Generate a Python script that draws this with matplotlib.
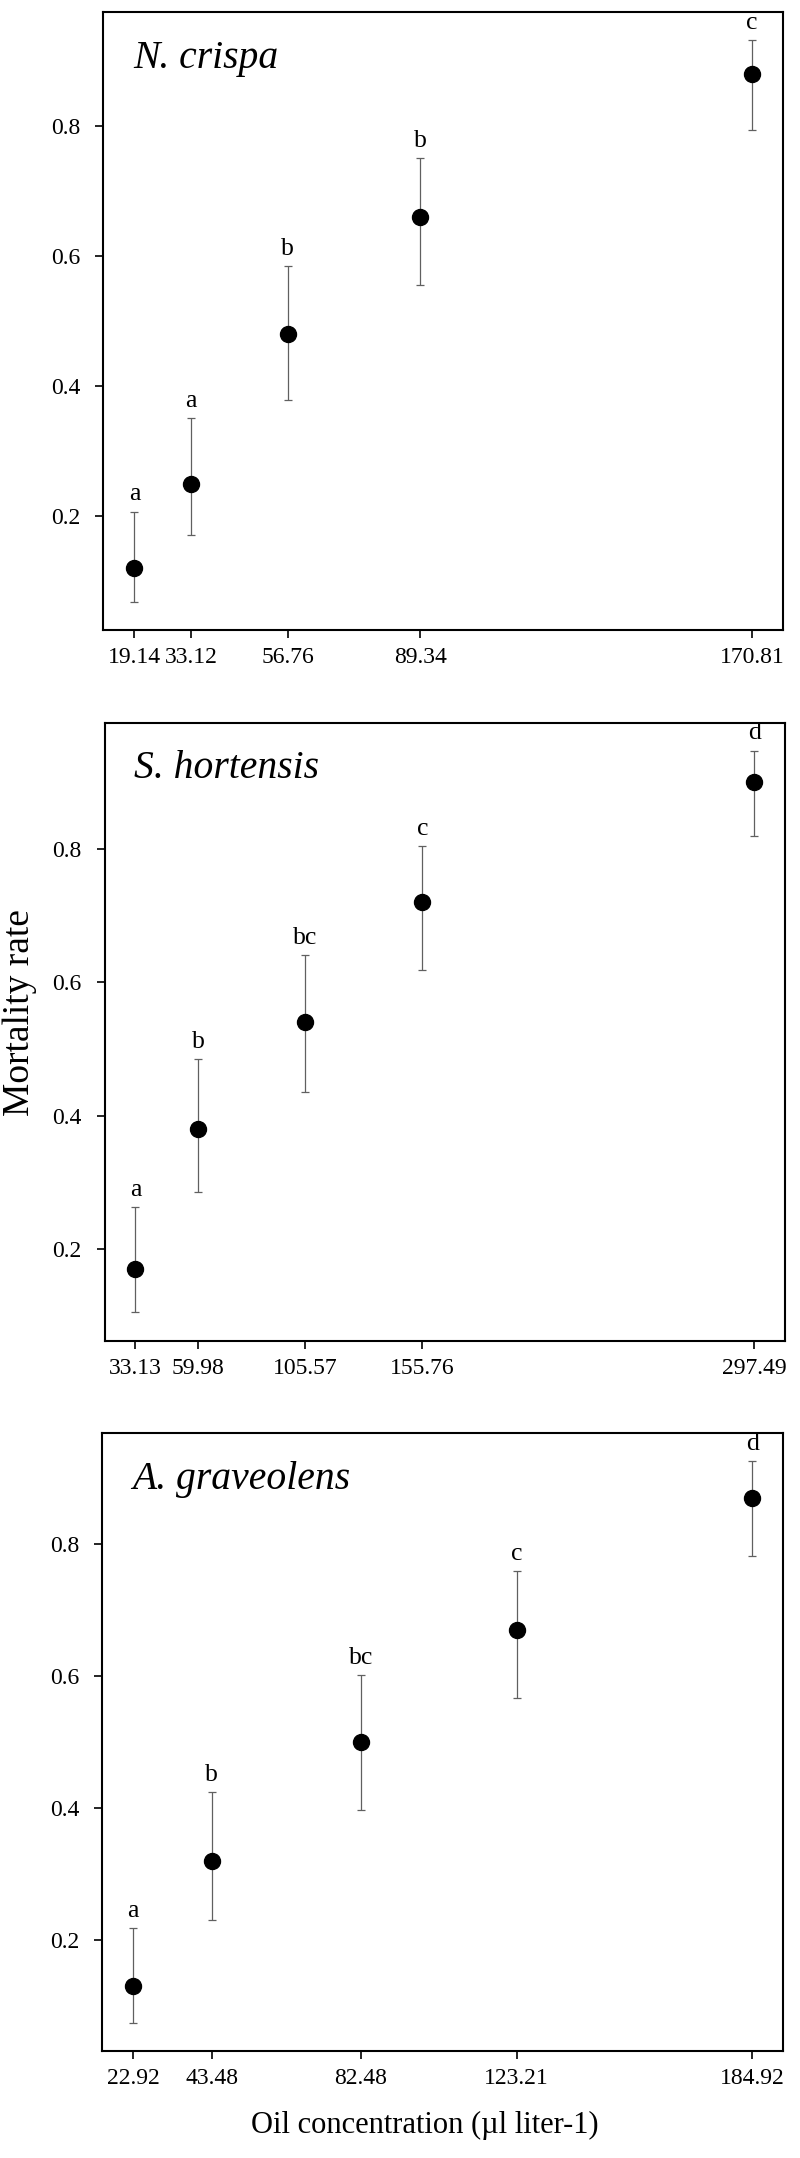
import matplotlib
matplotlib.use("Agg")
import matplotlib.pyplot as plt

plt.rcParams['font.family'] = ['Liberation Serif', 'DejaVu Serif']

# ---- data ----
species = ["N. crispa", "S. hortensis", "A. graveolens"]

conc_crispa = [19.14, 33.12, 56.76, 89.34, 170.81]
mort_crispa = [0.12, 0.25, 0.48, 0.66, 0.88]
upper_crispa = [0.207, 0.351, 0.584, 0.750, 0.932]
lower_crispa = [0.068, 0.171, 0.379, 0.555, 0.794]
letters_crispa = ["a", "a", "b", "b", "c"]

conc_hortensis = [33.13, 59.98, 105.57, 155.76, 297.49]
mort_hortensis = [0.17, 0.38, 0.54, 0.72, 0.90]
upper_hortensis = [0.263, 0.485, 0.641, 0.804, 0.947]
lower_hortensis = [0.105, 0.285, 0.436, 0.618, 0.819]
letters_hortensis = ["a", "b", "bc", "c", "d"]

conc_graveolens = [22.92, 43.48, 82.48, 123.21, 184.92]
mort_graveolens = [0.13, 0.32, 0.50, 0.67, 0.87]
upper_graveolens = [0.218, 0.424, 0.602, 0.760, 0.926]
lower_graveolens = [0.075, 0.231, 0.397, 0.567, 0.783]
letters_graveolens = ["a", "b", "bc", "c", "d"]

yticks = [0.2, 0.4, 0.6, 0.8]
ytick_labels = ["0.2", "0.4", "0.6", "0.8"]

panels = [
    (species[0], conc_crispa, mort_crispa, upper_crispa, lower_crispa, letters_crispa),
    (species[1], conc_hortensis, mort_hortensis, upper_hortensis, lower_hortensis, letters_hortensis),
    (species[2], conc_graveolens, mort_graveolens, upper_graveolens, lower_graveolens, letters_graveolens),
]

# axes boxes in pixels: left, right, top, bottom
W, H = 800, 2158
boxes = [(103.5, 783, 12, 630), (104.5, 785, 722.5, 1340.5), (102.3, 783.3, 1433.3, 2050.7)]

fig = plt.figure(figsize=(W / 100, H / 100), dpi=100)
fig.patch.set_facecolor("white")

for (name, x, y, up, lo, letters), (l, r, t, b) in zip(panels, boxes):
    ax = fig.add_axes([l / W, 1 - b / H, (r - l) / W, (b - t) / H])
    yerr = [[yi - li for yi, li in zip(y, lo)], [ui - yi for yi, ui in zip(y, up)]]
    ax.errorbar(x, y, yerr=yerr, fmt='none', ecolor='#606060', elinewidth=0.9,
                capsize=3.0, capthick=0.9, zorder=2)
    ax.plot(x, y, 'o', color='black', markersize=11.5, zorder=3)
    for xi, ui, lab in zip(x, up, letters):
        ax.annotate(lab, (xi, ui), xytext=(0, 8), textcoords='offset points',
                    ha='center', va='baseline', fontsize=18.5)
    ax.margins(x=0.05, y=0.05)
    ax.set_xticks(x)
    ax.set_xticklabels([f"{v:.2f}" for v in x], fontsize=17)
    ax.set_yticks(yticks)
    ax.set_yticklabels(ytick_labels, fontsize=17)
    ax.tick_params(axis='both', direction='out', length=5.5, width=1.2, color='black')
    ax.tick_params(axis='y', pad=11)
    ax.tick_params(axis='x', pad=7)
    for s in ax.spines.values():
        s.set_linewidth(1.5)
        s.set_color('black')
    ax.text(30 / (r - l), 1 - 56 / (b - t), name, transform=ax.transAxes,
            fontsize=28.5, fontstyle='italic', ha='left', va='baseline')

fig.text(20 / W, 1 - 1013 / H, "Mortality rate", rotation=90, fontsize=27,
         ha='center', va='center')
fig.text(424.6 / W, 1 - 2125 / H, "Oil concentration (\u00b5l liter-1)", fontsize=22,
         ha='center', va='center')

fig.savefig("out.png", dpi=100, facecolor="white")
